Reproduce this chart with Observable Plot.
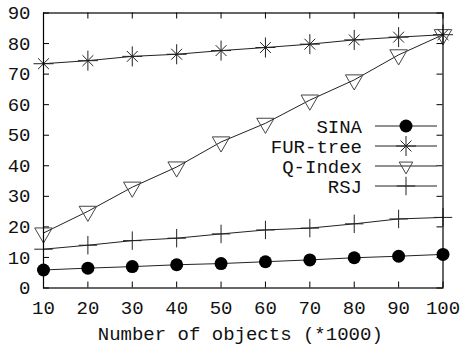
<!DOCTYPE html>
<html><head><meta charset="utf-8">
<script src="https://cdn.jsdelivr.net/npm/d3@7"></script>
<script src="https://cdn.jsdelivr.net/npm/@observablehq/plot@0.6"></script>
<style>body{margin:0;background:#fff}</style>
</head><body><div id="chart"></div>
<script>
const objects = [10, 20, 30, 40, 50, 60, 70, 80, 90, 100];
const sina    = [5.9, 6.5, 7.0, 7.6, 8.0, 8.6, 9.2, 9.9, 10.4, 11.0];
const furTree = [73.4, 74.4, 75.8, 76.5, 77.7, 78.7, 79.8, 81.2, 82.1, 82.9];
const qIndex  = [18.0, 25.1, 33.0, 39.6, 47.8, 53.9, 61.5, 68.1, 76.3, 82.9];
const rsj     = [12.7, 14.0, 15.5, 16.3, 17.7, 19.0, 19.6, 21.0, 22.6, 23.1];
const seriesNames = ["SINA", "FUR-tree", "Q-Index", "RSJ"];
const xTicks = [10, 20, 30, 40, 50, 60, 70, 80, 90, 100];
const yTicks = [0, 10, 20, 30, 40, 50, 60, 70, 80, 90];
const xLabel = "Number of objects (*1000)";

const W = 461, H = 347;
const mL = 43, mR = 18.5, mT = 12.5, mB = 59.5;
const innerW = W - mL - mR, innerH = H - mT - mB;
const FONT = "Liberation Mono, Courier New, monospace";

const rows = (vals, name) => objects.map((x, i) => ({x, y: vals[i], name}));
const dSina = rows(sina, seriesNames[0]);
const dFur = rows(furTree, seriesNames[1]);
const dQ = rows(qIndex, seriesNames[2]);
const dRsj = rows(rsj, seriesNames[3]);

const lineColor = "#222";
const textColor = "#111";
const symArea = r => Math.PI * r * r;
const legendSpec = [
  {name: seriesNames[0], parts: [{sym: d3.symbolCircle, r: 6.5, fill: "#000", stroke: "none"}]},
  {name: seriesNames[1], parts: [{sym: d3.symbolPlus, r: 6.5, fill: "none", stroke: lineColor}, {sym: d3.symbolTimes, r: 5, fill: "none", stroke: lineColor}]},
  {name: seriesNames[2], parts: [{sym: d3.symbolTriangle2, r: 6.5, fill: "none", stroke: "#444", rotate: 180}]},
  {name: seriesNames[3], parts: [{sym: d3.symbolPlus, r: 6, fill: "none", stroke: lineColor}]}
];

const legendMark = (index, scales, values, dims) => {
  const g = d3.create("svg:g");
  const right = dims.width - dims.marginRight;
  const top = dims.marginTop;
  legendSpec.forEach((s, i) => {
    const y = top + 113.5 + i * 20;
    g.append("text").attr("x", right - 80.5).attr("y", y).attr("dy", "0.35em")
      .attr("text-anchor", "end").attr("fill", textColor)
      .style("font-family", FONT).style("font-size", "19px").text(s.name);
    g.append("line").attr("x1", right - 67.5).attr("x2", right - 5.5)
      .attr("y1", y).attr("y2", y).attr("stroke", lineColor).attr("stroke-width", 1);
    s.parts.forEach(p => {
      g.append("path").attr("d", d3.symbol(p.sym, symArea(p.r))())
        .attr("transform", `translate(${right - 36.5},${y})` + (p.rotate ? ` rotate(${p.rotate})` : ""))
        .attr("fill", p.fill).attr("stroke", p.stroke).attr("stroke-width", 1);
    });
  });
  return g.node();
};

const chart = Plot.plot({
  width: W, height: H,
  marginLeft: mL, marginRight: mR, marginTop: mT, marginBottom: mB,
  style: {fontFamily: FONT, fontSize: "19px", background: "#fff", color: textColor},
  x: {domain: [10, 100]},
  y: {domain: [0, 90]},
  marks: [
    Plot.axisX(xTicks, {tickSize: 0, tickPadding: 12, label: null, fontSize: 19}),
    Plot.axisY(yTicks, {tickSize: 0, tickPadding: 13, label: null, fontSize: 19}),
    Plot.tickX(xTicks, {x: d => d, insetTop: innerH - 6, stroke: "#000"}),
    Plot.tickX(xTicks, {x: d => d, insetBottom: innerH - 6, stroke: "#000"}),
    Plot.tickY(yTicks, {y: d => d, insetRight: innerW - 6, stroke: "#000"}),
    Plot.tickY(yTicks, {y: d => d, insetLeft: innerW - 6, stroke: "#000"}),
    Plot.line(dSina, {x: "x", y: "y", stroke: lineColor, strokeWidth: 1}),
    Plot.line(dFur, {x: "x", y: "y", stroke: lineColor, strokeWidth: 1}),
    Plot.line(dQ, {x: "x", y: "y", stroke: lineColor, strokeWidth: 1}),
    Plot.line(dRsj, {x: "x", y: "y", stroke: lineColor, strokeWidth: 1}),
    Plot.dot(dSina, {x: "x", y: "y", symbol: "circle", r: 6.5, fill: "#000", stroke: "none"}),
    Plot.dot(dFur, {x: "x", y: "y", symbol: "plus", r: 6.5, stroke: lineColor, strokeWidth: 1}),
    Plot.dot(dFur, {x: "x", y: "y", symbol: "times", r: 5, stroke: lineColor, strokeWidth: 1}),
    Plot.dot(dQ, {x: "x", y: "y", symbol: "triangle", r: 6.5, rotate: 180, stroke: "#444", fill: "none", strokeWidth: 1}),
    Plot.dot(dRsj, {x: "x", y: "y", symbol: "plus", r: 6, stroke: lineColor, strokeWidth: 1}),
    Plot.text([xLabel], {text: d => d, frameAnchor: "bottom", dy: 52, dx: -3, fontSize: 19, fill: textColor}),
    Plot.frame({stroke: "#000", strokeWidth: 1.2}),
    legendMark
  ]
});
document.getElementById("chart").appendChild(chart);
</script>
</body></html>
